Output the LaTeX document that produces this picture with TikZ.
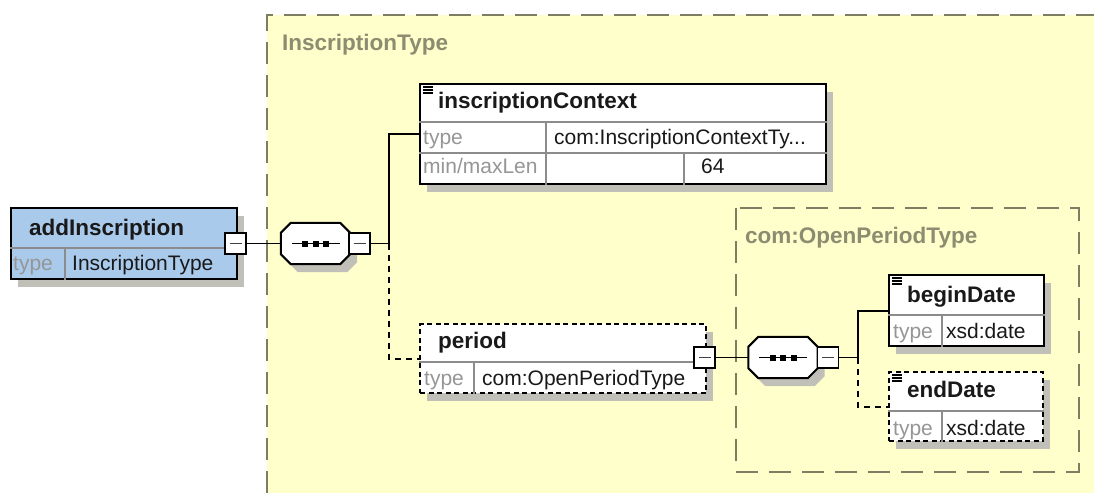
\documentclass[tikz,border=0pt]{standalone}
\usepackage{fontspec}
\setmainfont{Liberation Sans}
\usepackage{tikz}
\usetikzlibrary{positioning,shadows,calc}
\definecolor{schemayellow}{RGB}{255,255,204}
\definecolor{elemblue}{RGB}{170,202,236}
\definecolor{groupline}{RGB}{125,125,100}
\definecolor{grouptext}{RGB}{140,140,112}
\definecolor{rowgray}{RGB}{140,140,140}
\definecolor{keygray}{RGB}{150,150,150}
\definecolor{shadowgray}{RGB}{192,192,184}

\begin{document}
\begin{tikzpicture}[x=1pt,y=-1pt,
    elem/.style={draw=black,line width=2.2pt,fill=white,inner sep=0,anchor=north west,
        drop shadow={shadow xshift=7pt,shadow yshift=-8pt,fill=shadowgray,opacity=1}},
    optelem/.style={elem,dash pattern=on 5pt off 3.5pt},
    row/.style={draw=rowgray,line width=1.4pt},
    ttl/.style={anchor=base west,inner sep=0,font=\fontsize{22.5}{27}\selectfont\bfseries,text=black!90},
    key/.style={anchor=base west,inner sep=0,font=\fontsize{21}{25}\selectfont,text=keygray},
    val/.style={anchor=base west,inner sep=0,font=\fontsize{21}{25}\selectfont,text=black!90},
    grp/.style={draw=groupline,line width=1.4pt,dash pattern=on 22pt off 11pt},
    grplabel/.style={anchor=base west,inner sep=0,font=\fontsize{22.5}{27}\selectfont\bfseries,text=grouptext},
    minusbox/.style={draw=black,fill=white,line width=1.8pt,minimum size=21,inner sep=0,
        path picture={\draw[line width=1.4pt,black!75] ([xshift=-6pt]path picture bounding box.center) -- ([xshift=6pt]path picture bounding box.center);}},
    seqbox/.style={minimum width=69,minimum height=41,inner sep=0},
    seqline/.style={draw=black,fill=white,line width=2pt,line join=miter,
        drop shadow={shadow xshift=7pt,shadow yshift=-8pt,fill=shadowgray,opacity=1}},
    conn/.style={draw=black,line width=1.8pt},
    optconn/.style={conn,dash pattern=on 6pt off 5pt}]
    \useasboundingbox (0,0) rectangle (1094,493);

    % InscriptionType group
    \fill[schemayellow] (267,15) rectangle (1094,493);
    \draw[grp] (267,493) -- (267,15) -- (1094,15);
    \node[grplabel] (grpname) at (282,50.7) {InscriptionType};

    % com:OpenPeriodType group
    \draw[grp] (736,208) rectangle (1079,472);
    \node[grplabel] (subgrpname) at (745,243) {com:OpenPeriodType};

    % addInscription
    \node[elem,fill=elemblue,minimum width=226,minimum height=71] (add) at (10,207) {};
    \draw[row] ($(add.north west)+(0,41)$) -- ($(add.north east)+(0,41)$);
    \draw[row] ($(add.north west)+(55,41)$) -- ($(add.south west)+(55,0)$);
    \node[ttl] (addname) at (29,235) {addInscription};
    \node[key] (addkey) at (13,270.5) {type};
    \node[val] (addval) at (72,270.5) {InscriptionType};

    % inscriptionContext
    \node[elem,minimum width=406,minimum height=100] (ictx) at (419,83) {};
    \draw[row] ($(ictx.north west)+(0,39)$) -- ($(ictx.north east)+(0,39)$);
    \draw[row] ($(ictx.north west)+(0,70)$) -- ($(ictx.north east)+(0,70)$);
    \draw[row] ($(ictx.north west)+(127,39)$) -- ($(ictx.south west)+(127,0)$);
    \draw[row] ($(ictx.north west)+(265,70)$) -- ($(ictx.south west)+(265,0)$);
    \node[ttl] (ictxname) at (438,108) {inscriptionContext};
    \node[key] (ictxkey) at (423,144) {type};
    \node[val] (ictxval) at (554,144) {com:InscriptionContextTy...};
    \node[key] (ictxlenkey) at (423,173.5) {min/maxLen};
    \node[val] (ictxlen) at (701,173.5) {64};

    % period
    \node[optelem,minimum width=286,minimum height=69] (period) at (419,323) {};
    \draw[row] ($(period.north west)+(0,39)$) -- ($(period.north east)+(0,39)$);
    \draw[row] ($(period.north west)+(55,39)$) -- ($(period.south west)+(55,0)$);
    \node[ttl] (periodname) at (438,348) {period};
    \node[key] (periodkey) at (424,385) {type};
    \node[val] (periodval) at (482,385) {com:OpenPeriodType};

    % beginDate
    \node[elem,minimum width=155,minimum height=71] (begin) at (888,274) {};
    \draw[row] ($(begin.north west)+(0,41)$) -- ($(begin.north east)+(0,41)$);
    \draw[row] ($(begin.north west)+(54,41)$) -- ($(begin.south west)+(54,0)$);
    \node[ttl] (beginname) at (907,302) {beginDate};
    \node[key] (beginkey) at (893,338) {type};
    \node[val] (beginval) at (946,338) {xsd:date};

    % endDate
    \node[optelem,minimum width=154,minimum height=69] (end) at (888,371) {};
    \draw[row] ($(end.north west)+(0,40)$) -- ($(end.north east)+(0,40)$);
    \draw[row] ($(end.north west)+(54,40)$) -- ($(end.south west)+(54,0)$);
    \node[ttl] (endname) at (907,397) {endDate};
    \node[key] (endkey) at (893,435) {type};
    \node[val] (endval) at (946,435) {xsd:date};

    % annotation marks
    \foreach \n in {ictx,begin,end}
        \foreach \k in {4,7,10}
            \draw[line width=1.3pt] ($(\n.north west)+(4,\k)$) -- ++(10,0);

    % sequences
    \node[seqbox] (seq1) at (315.5,243.5) {};
    \node[seqbox] (seq2) at (783,357.5) {};
    \foreach \s in {seq1,seq2} {
        \draw[seqline] ([xshift=10pt]\s.north west) -- ([xshift=-10pt]\s.north east)
            -- ([yshift=-10pt]\s.north east) -- ([yshift=10pt]\s.south east)
            -- ([xshift=-10pt]\s.south east) -- ([xshift=10pt]\s.south west)
            -- ([yshift=10pt]\s.south west) -- ([yshift=-10pt]\s.north west) -- cycle;
        \draw[line width=1.8pt] ([xshift=-24pt]\s.center) -- ([xshift=24pt]\s.center);
        \foreach \d in {-10.5,0,10.5}
            \fill ([xshift=\d pt]\s.center) +(-3pt,-3pt) rectangle +(3pt,3pt);
    }
    \node[minusbox] (addmin) at (235.5,243.5) {};
    \node[minusbox] (seq1min) at (359.5,243.5) {};
    \coordinate (fork1) at (389,243.5);
    \node[minusbox] (periodmin) at (704.5,357.5) {};
    \node[minusbox] (seq2min) at (828,357.5) {};
    \coordinate (fork2) at (858,357.5);

    % connectors
    \draw[conn] (addmin) -- (seq1);
    \draw[conn] (seq1min) -- (fork1) |- (ictx);
    \draw[optconn] (fork1) |- (period);
    \draw[conn] (periodmin) -- (seq2);
    \draw[conn] (seq2min) -- (fork2) |- (begin);
    \draw[optconn] (fork2) |- (end);
\end{tikzpicture}
\end{document}
